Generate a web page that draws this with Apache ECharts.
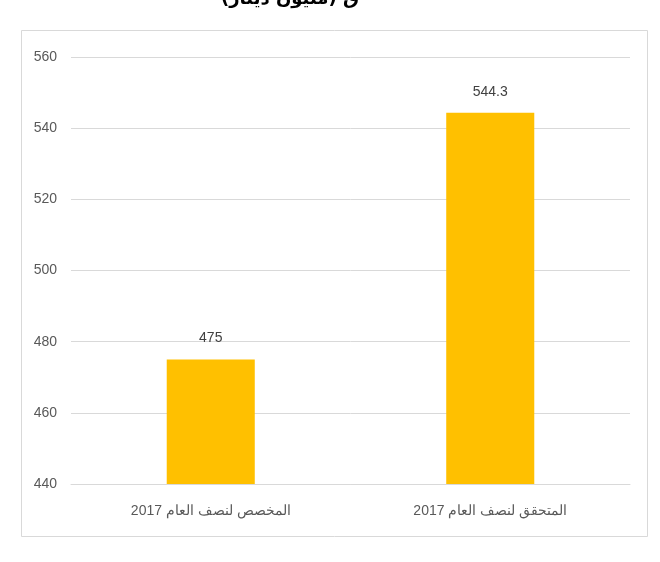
<!DOCTYPE html>
<html><head><meta charset="utf-8">
<script src="https://cdn.jsdelivr.net/npm/echarts@6/dist/echarts.min.js"></script>
<style>html,body{margin:0;padding:0;background:#fff}#c{width:660px;height:562px}</style>
</head><body><div id="c"></div>
<script>
const categories = ['المخصص لنصف العام 2017', 'المتحقق لنصف العام 2017'];
const values = [475, 544.3];
const yTicks = [440, 460, 480, 500, 520, 540, 560];
const titleText = '(مليون دينار) ق';

const chart = echarts.init(document.getElementById('c'));
chart.setOption({
  animation: false,
  backgroundColor: '#fff',
  title: {
    text: titleText, left: 285, top: -15, textAlign: 'center',
    textStyle: {fontFamily: 'DejaVu Sans', fontWeight: 'bold', fontSize: 18, color: '#000'}
  },
  graphic: [{
    type: 'rect', shape: {x: 21.5, y: 30.5, width: 626, height: 506},
    style: {fill: 'none', stroke: '#d9d9d9', lineWidth: 1}, silent: true, z: -1
  }],
  grid: {left: 71, right: 30, top: 57, bottom: 78, containLabel: false},
  xAxis: {
    type: 'category', data: categories,
    axisLine: {show: true, lineStyle: {color: '#d9d9d9'}},
    axisTick: {show: false},
    axisLabel: {color: '#595959', fontSize: 14, fontFamily: 'Liberation Sans Narrow, Arial Narrow, Liberation Sans', margin: 20}
  },
  yAxis: {
    type: 'value', min: yTicks[0], max: yTicks[yTicks.length-1], interval: 20,
    axisLine: {show: false}, axisTick: {show: false},
    splitLine: {lineStyle: {color: '#d9d9d9'}},
    axisLabel: {color: '#595959', fontSize: 14, fontFamily: 'Liberation Sans Narrow, Arial Narrow, Liberation Sans', margin: 14}
  },
  series: [{
    type: 'bar', data: values, barWidth: '31.5%',
    itemStyle: {color: '#ffc000'},
    label: {show: true, position: 'top', distance: 14, color: '#404040', fontSize: 14,
      fontFamily: 'Liberation Sans Narrow, Arial Narrow, Liberation Sans'}
  }]
});
</script></body></html>
